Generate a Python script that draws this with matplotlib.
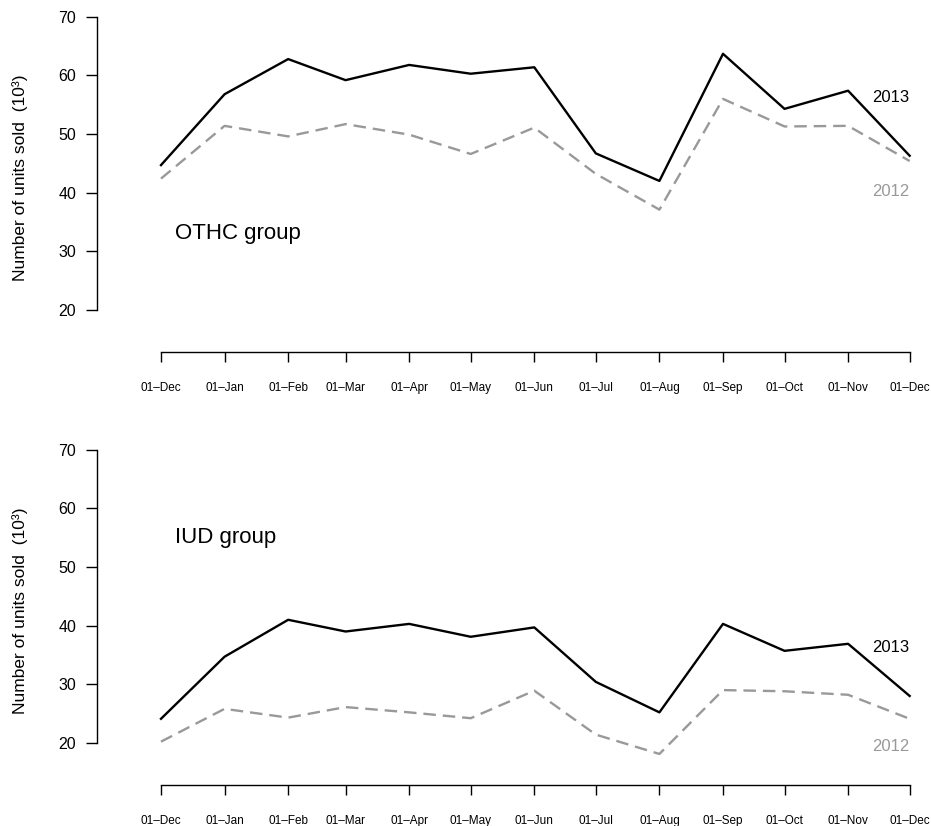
import numpy as np
import matplotlib
matplotlib.use("Agg")
import matplotlib.pyplot as plt

plt.rcParams['font.family'] = ['Liberation Sans', 'DejaVu Sans']
plt.rcParams['lines.scale_dashes'] = False

# ---- data ----
months = np.array(['2012-12-01', '2013-01-01', '2013-02-01', '2013-03-01', '2013-04-01',
                   '2013-05-01', '2013-06-01', '2013-07-01', '2013-08-01', '2013-09-01',
                   '2013-10-01', '2013-11-01', '2013-12-01'], dtype='datetime64[D]')
tick_labels = ['01–Dec', '01–Jan', '01–Feb', '01–Mar', '01–Apr', '01–May', '01–Jun',
               '01–Jul', '01–Aug', '01–Sep', '01–Oct', '01–Nov', '01–Dec']

othc_2013 = [44.7, 56.8, 62.8, 59.2, 61.8, 60.3, 61.4, 46.7, 42.0, 63.7, 54.3, 57.4, 46.3]
othc_2012 = [42.4, 51.4, 49.6, 51.7, 49.9, 46.6, 51.1, 43.2, 37.1, 56.0, 51.3, 51.4, 45.4]
iud_2013 = [24.1, 34.7, 41.0, 39.0, 40.3, 38.1, 39.7, 30.4, 25.2, 40.3, 35.7, 36.9, 28.0]
iud_2012 = [20.2, 25.8, 24.3, 26.1, 25.2, 24.2, 28.9, 21.4, 18.1, 29.0, 28.8, 28.2, 24.1]

groups = ['OTHC group', 'IUD group']
series = [(othc_2013, othc_2012), (iud_2013, iud_2012)]
group_label_y = [33.1, 55.0]
lab2013_y = [56.2, 36.3]
lab2012_y = [40.2, 19.4]
yticks = [20, 30, 40, 50, 60, 70]

x = (months - months[0]).astype(int)

W, H = 931, 826
fig = plt.figure(figsize=(W / 100, H / 100), dpi=100)

axes_bottom_px = [352, 785]
gray = '#999999'

for i in range(2):
    b = (H - axes_bottom_px[i]) / H
    ax = fig.add_axes([97 / W, b, (924 - 97) / W, 348 / H])
    s13, s12 = series[i]
    ax.plot(x, s12, color=gray, lw=1.7, dashes=(9, 5))
    ax.plot(x, s13, color='black', lw=1.7)
    ax.set_xlim(-31.2, 372)
    ax.set_ylim(12.8, 72.2)
    ax.spines['top'].set_visible(False)
    ax.spines['right'].set_visible(False)
    ax.spines['left'].set_bounds(20, 70)
    ax.spines['bottom'].set_bounds(x[0], x[-1])
    for sp in ('left', 'bottom'):
        ax.spines[sp].set_linewidth(1.0)
    ax.set_yticks(yticks)
    ax.set_yticklabels([str(t) for t in yticks])
    ax.set_xticks(x)
    ax.set_xticklabels(tick_labels)
    ax.tick_params(axis='y', length=8, width=1.0, pad=7, labelsize=11.5)
    ax.tick_params(axis='x', length=7.5, width=1.0, pad=14, labelsize=8.5)
    ax.text(x[-1], lab2013_y[i], '2013', ha='right', va='center', fontsize=12, color='black')
    ax.text(x[-1], lab2012_y[i], '2012', ha='right', va='center', fontsize=12, color=gray)
    ax.text(x[0] + 7, group_label_y[i], groups[i], ha='left', va='center', fontsize=16)
    ycen = 1 - ((4 + 352) / 2 + (0 if i == 0 else 433)) / H
    fig.text(20 / W, ycen, 'Number of units sold  (10³)', rotation=90,
             ha='center', va='center', fontsize=12.5)

fig.savefig('out.png', dpi=100)
